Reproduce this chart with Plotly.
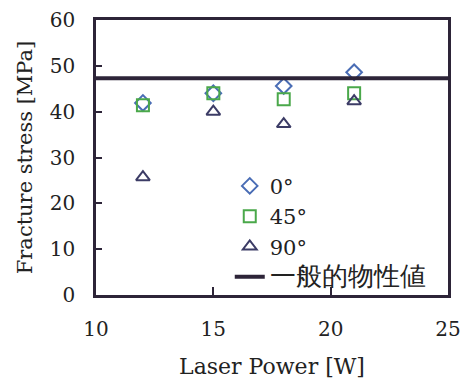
import plotly.graph_objects as go

laser_power = [12, 15, 18, 21]
stress_0 = [41.9, 44.0, 45.6, 48.6]
stress_45 = [41.4, 44.0, 42.7, 44.0]
stress_90 = [25.7, 40.0, 37.3, 42.3]
general_x = [10, 25]
general_y = [47.3, 47.3]

x_ticks = [10, 15, 20, 25]
y_ticks = [0, 10, 20, 30, 40, 50, 60]

serif = "DejaVu Serif"
axis_color = "#2d2438"

fig = go.Figure()
fig.add_trace(go.Scatter(x=laser_power, y=stress_0, mode="markers", name="0°",
                         marker=dict(symbol="diamond-open", size=12, color="#4a6db5", line=dict(width=2))))
fig.add_trace(go.Scatter(x=laser_power, y=stress_45, mode="markers", name="45°",
                         marker=dict(symbol="square-open", size=12, color="#4aa84a", line=dict(width=2))))
fig.add_trace(go.Scatter(x=laser_power, y=stress_90, mode="markers", name="90°",
                         marker=dict(symbol="triangle-up-open", size=12, color="#3c3c66", line=dict(width=2))))
fig.add_trace(go.Scatter(x=general_x, y=general_y, mode="lines",
                         name='<span style="font-size:26px">一般的物性値</span>',
                         line=dict(color=axis_color, width=4)))

fig.update_layout(
    width=471, height=379,
    margin=dict(l=96, r=23, t=20, b=84, autoexpand=False),
    paper_bgcolor="white", plot_bgcolor="white",
    font=dict(family=serif, size=21, color="#222222"),
    showlegend=True,
    legend=dict(x=0.38, y=0.47, xanchor="left", yanchor="top",
                bgcolor="rgba(0,0,0,0)", font=dict(family=serif, size=21),
                tracegroupgap=0),
    xaxis=dict(range=[10, 25], tickvals=x_ticks, ticks="inside", ticklen=8, tickwidth=2,
               tickcolor=axis_color, showline=True, linecolor=axis_color, linewidth=2.5,
               mirror=True, showgrid=False, zeroline=False, automargin=False,
               ticklabelstandoff=14, tickfont=dict(size=20),
               title=dict(text="Laser Power [W]", standoff=20, font=dict(size=22))),
    yaxis=dict(range=[0, 60], tickvals=y_ticks, ticks="inside", ticklen=6, tickwidth=2,
               tickcolor=axis_color, showline=True, linecolor=axis_color, linewidth=2.5,
               mirror=True, showgrid=False, zeroline=False, automargin=False,
               ticklabelstandoff=14, tickfont=dict(size=20),
               title=dict(text="Fracture stress [MPa]", standoff=12, font=dict(size=21))),
)

fig.write_html("out.html", config={"displayModeBar": False},
               post_script="document.body.style.margin='0';")
